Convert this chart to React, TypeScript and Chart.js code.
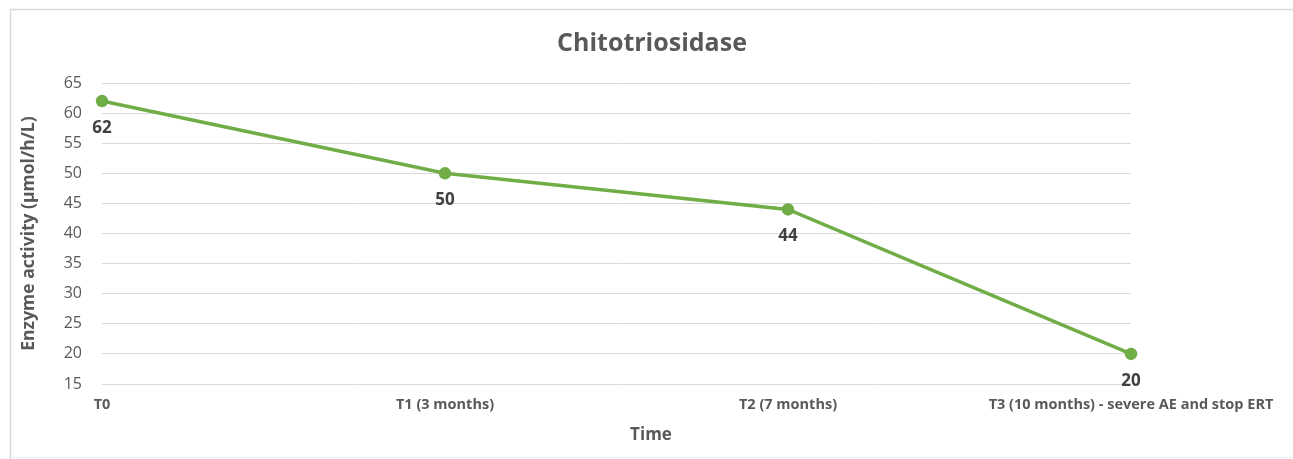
import React, { useEffect, useRef } from "react";
import { Chart, registerables } from "chart.js";

Chart.register(...registerables);

const categories = [
  "T0",
  "T1 (3 months)",
  "T2 (7 months)",
  "T3 (10 months) - severe AE and stop ERT",
];
const chitotriosidase = [62, 50, 44, 20];
const yMin = 15;
const yMax = 65;
const yStep = 5;

const chartTitle = "Chitotriosidase";
const xTitle = "Time";
const yTitle = "Enzyme activity (μmol/h/L)";

const FONT = "'Open Sans', 'Liberation Sans', sans-serif";
const GREEN = "#70AD47";
const GRAY = "#595959";

const framePlugin = {
  id: "frame",
  beforeDraw(chart: any) {
    const ctx = chart.ctx;
    ctx.save();
    ctx.fillStyle = "#ffffff";
    ctx.fillRect(0, 0, chart.width, chart.height);
    ctx.strokeStyle = "#d9d9d9";
    ctx.lineWidth = 1.5;
    ctx.beginPath();
    ctx.moveTo(10.5, chart.height);
    ctx.lineTo(10.5, 9.5);
    ctx.lineTo(chart.width, 9.5);
    ctx.stroke();
    ctx.strokeStyle = "#f0f0f0";
    ctx.lineWidth = 1;
    ctx.beginPath();
    ctx.moveTo(10.5, 457.5);
    ctx.lineTo(chart.width, 457.5);
    ctx.stroke();
    ctx.restore();
  },
  afterDraw(chart: any) {
    const ctx = chart.ctx;
    ctx.save();
    ctx.fillStyle = GRAY;
    ctx.textAlign = "center";
    ctx.textBaseline = "middle";
    ctx.font = `bold 25px ${FONT}`;
    ctx.fillText(chartTitle, 652, 44);
    ctx.font = `bold 17px ${FONT}`;
    ctx.fillText(xTitle, 651, 435);
    ctx.restore();
  },
};

const dataLabelPlugin = {
  id: "dataLabels",
  afterDatasetsDraw(chart: any) {
    const ctx = chart.ctx;
    ctx.save();
    ctx.font = `bold 17px ${FONT}`;
    ctx.fillStyle = "#404040";
    ctx.textAlign = "center";
    ctx.textBaseline = "middle";
    chart.data.datasets.forEach((ds: any, di: number) => {
      const meta = chart.getDatasetMeta(di);
      meta.data.forEach((pt: any, i: number) => {
        ctx.fillText(String(ds.data[i]), pt.x, pt.y + 27);
      });
    });
    ctx.restore();
  },
};

export default function App() {
  const ref = useRef<HTMLCanvasElement | null>(null);

  useEffect(() => {
    if (!ref.current) return;
    const chart = new Chart(ref.current, {
      type: "line",
      data: {
        labels: categories,
        datasets: [
          {
            label: chartTitle,
            data: chitotriosidase,
            borderColor: GREEN,
            backgroundColor: GREEN,
            borderWidth: 3.5,
            pointRadius: 4.5,
            pointBackgroundColor: GREEN,
            pointBorderColor: GREEN,
            tension: 0,
          },
        ],
      },
      options: {
        animation: false,
        responsive: false,
        layout: { padding: { left: 10, right: 162, top: 83, bottom: 0 } },
        plugins: {
          legend: { display: false },
          tooltip: { enabled: false },
          title: { display: false },
        },
        scales: {
          x: {
            offset: false,
            grid: { display: false },
            border: { display: false },
            ticks: {
              color: GRAY,
              font: { family: FONT, size: 14.5, weight: "bold" },
              padding: 4,
              maxRotation: 0,
              autoSkip: false,
            },
            afterFit(scale: any) {
              scale.height = 75;
            },
          },
          y: {
            min: yMin,
            max: yMax,
            grid: { color: "#d9d9d9", lineWidth: 1, drawTicks: false },
            border: { display: false },
            ticks: {
              stepSize: yStep,
              color: GRAY,
              font: { family: FONT, size: 16 },
              padding: 20,
            },
            title: {
              display: true,
              text: yTitle,
              color: GRAY,
              font: { family: FONT, size: 17.5, weight: "bold" },
              padding: { top: 9, bottom: 0 },
            },
            afterFit(scale: any) {
              scale.width = 92;
            },
          },
        },
      },
      plugins: [framePlugin, dataLabelPlugin],
    });
    return () => chart.destroy();
  }, []);

  return (
    <div style={{ position: "absolute", left: 0, top: 0, width: 1293, height: 459 }}>
      <canvas ref={ref} width={1293} height={459} style={{ display: "block" }} />
    </div>
  );
}
